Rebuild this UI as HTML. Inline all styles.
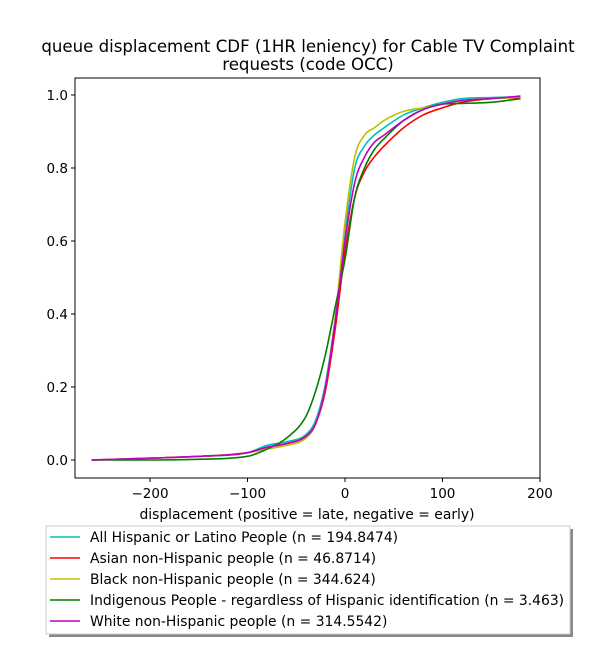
<!DOCTYPE html>
<html><head><meta charset="utf-8"><style>
body{margin:0;background:#fff;}
svg{font-family:"DejaVu Sans","Liberation Sans",sans-serif;}
</style></head><body>
<svg width="600" height="650" xmlns="http://www.w3.org/2000/svg">
<text x="308" y="52" text-anchor="middle" font-size="16.6">queue displacement CDF (1HR leniency) for Cable TV Complaint</text>
<text x="308" y="70" text-anchor="middle" font-size="16.6">requests (code OCC)</text>
<g id="ticks"></g>
<g id="lines"></g>
<rect x="75" y="78" width="465" height="400" fill="none" stroke="#000" stroke-width="1"/>
<text x="307" y="519" text-anchor="middle" font-size="13.9">displacement (positive = late, negative = early)</text>
<rect x="49" y="529" width="524" height="108" fill="#888"/>
<rect x="46" y="526" width="524" height="108" fill="#fff" stroke="#ccc"/>
<g id="legend"></g>
</svg>
<script>
const xs=[-260,-200,-150,-100,-80,-60,-40,-30,-20,-10,0,10,20,30,40,60,80,100,120,150,180];
const cyan=[0,0.005,0.01,0.02,0.04,0.05,0.07,0.11,0.21,0.39,0.62,0.80,0.86,0.89,0.91,0.945,0.965,0.98,0.99,0.993,0.995];
const red=[0,0.005,0.01,0.02,0.035,0.045,0.065,0.10,0.19,0.36,0.57,0.72,0.79,0.83,0.86,0.91,0.945,0.965,0.98,0.99,0.993];
const yellow=[0,0.005,0.01,0.02,0.03,0.04,0.06,0.10,0.20,0.39,0.65,0.83,0.89,0.91,0.93,0.955,0.965,0.975,0.985,0.99,0.995];
const green=[0,0,0.002,0.01,0.03,0.06,0.12,0.19,0.29,0.42,0.55,0.72,0.80,0.85,0.88,0.93,0.96,0.975,0.977,0.98,0.99];
const magenta=[0,0.005,0.01,0.02,0.035,0.045,0.065,0.10,0.20,0.38,0.60,0.76,0.83,0.87,0.89,0.93,0.96,0.975,0.985,0.99,0.997];
const xTicks=[-200,-100,0,100,200];
const yTicks=[0.0,0.2,0.4,0.6,0.8,1.0];
const seriesNames=["All Hispanic or Latino People (n = 194.8474)","Asian non-Hispanic people (n = 46.8714)","Black non-Hispanic people (n = 344.624)","Indigenous People - regardless of Hispanic identification (n = 3.463)","White non-Hispanic people (n = 314.5542)"];
const NS="http://www.w3.org/2000/svg";
const X=v=>345+0.975*v, Y=v=>460-365*v;
const tg=document.getElementById('ticks');
function mk(t,a,p){const e=document.createElementNS(NS,t);for(const k in a)e.setAttribute(k,a[k]);p.appendChild(e);return e;}
xTicks.forEach(t=>{
 const l=mk('line',{x1:X(t),x2:X(t),y1:478,y2:482,stroke:'#000'},tg);
 
 
 const tx=mk('text',{x:X(t),y:498,'text-anchor':'middle','font-size':13.5},tg);tx.textContent=(t<0?'\u2212'+(-t):t);
 
 
});
yTicks.forEach(t=>{
 const l=mk('line',{x1:71,x2:75,y1:Y(t),y2:Y(t),stroke:'#000'},tg);
 
 
 const tx=mk('text',{x:68,y:Y(t)+5,'text-anchor':'end','font-size':13.5},tg);tx.textContent=t.toFixed(1);
 
 
});
function path(ys){
 const p=xs.map((x,i)=>[X(x),Y(ys[i])]),n=p.length;
 const d=[],m=new Array(n);
 for(let i=0;i<n-1;i++)d.push((p[i+1][1]-p[i][1])/(p[i+1][0]-p[i][0]));
 m[0]=d[0];m[n-1]=d[n-2];
 for(let i=1;i<n-1;i++){m[i]=(d[i-1]*d[i]<=0)?0:(d[i-1]+d[i])/2;}
 for(let i=0;i<n-1;i++){if(d[i]===0){m[i]=0;m[i+1]=0;continue;}const a=m[i]/d[i],b=m[i+1]/d[i],h=a*a+b*b;if(h>9){const t=3/Math.sqrt(h);m[i]=t*a*d[i];m[i+1]=t*b*d[i];}}
 let s='M'+p[0][0]+','+p[0][1];
 for(let i=0;i<n-1;i++){const h=(p[i+1][0]-p[i][0])/3;
  s+=' C'+(p[i][0]+h)+','+(p[i][1]+m[i]*h)+' '+(p[i+1][0]-h)+','+(p[i+1][1]-m[i+1]*h)+' '+p[i+1][0]+','+p[i+1][1];}
 return s;}
const lg=document.getElementById('lines'),leg=document.getElementById('legend');
const all=[cyan,red,yellow,green,magenta],cols=['#00bfbf','#ff0000','#bfbf00','#008000','#bf00bf'],names=['cyan','red','yellow','green','magenta'];
all.forEach((s,i)=>{
 const p=mk('path',{d:path(s),fill:'none',stroke:cols[i],'stroke-width':1.6},lg);
 
 
 const y=537+21*i;
 const l=mk('line',{x1:50,x2:80,y1:y,y2:y,stroke:cols[i],'stroke-width':1.6},leg);
 
 
 const t=mk('text',{x:90,y:y+5,'font-size':13.9},leg);t.textContent=seriesNames[i];
 
 
});
</script>
</body></html>
